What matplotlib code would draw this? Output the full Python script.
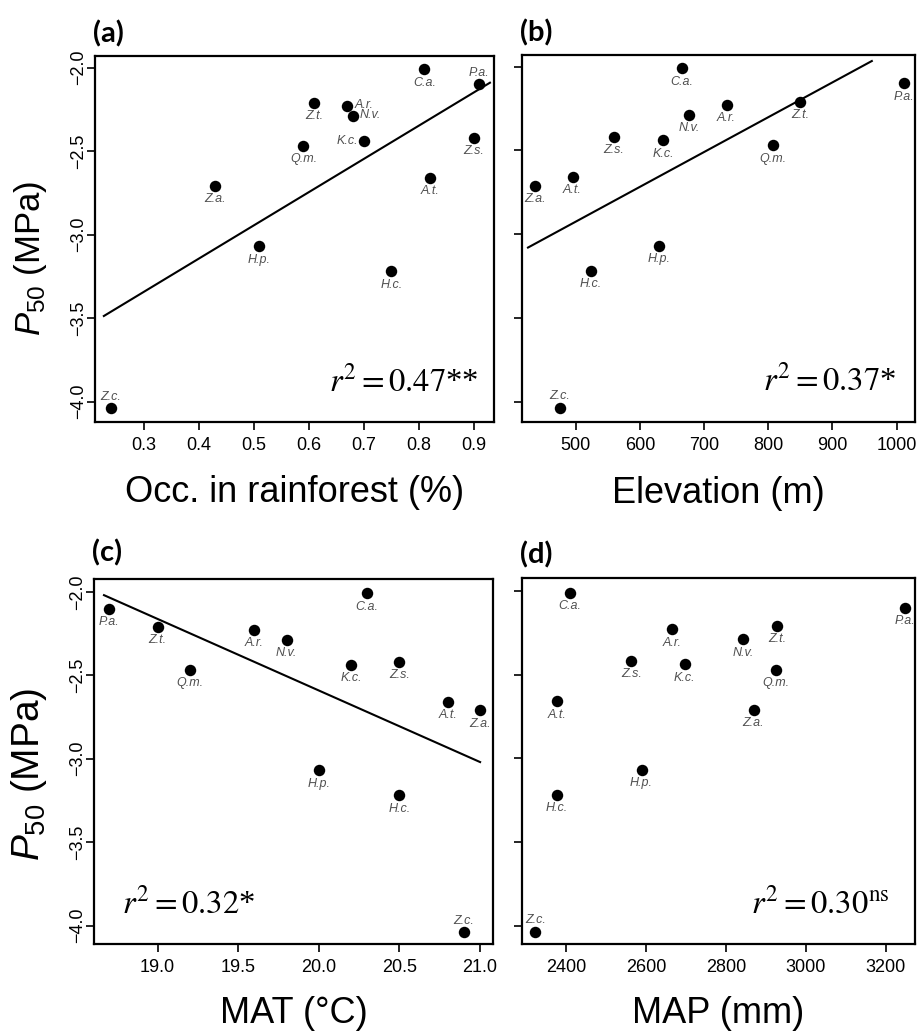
import matplotlib
matplotlib.use('Agg')
import matplotlib.pyplot as plt

# ---------------- data ----------------
species = ["A.r.", "A.t.", "C.a.", "H.c.", "H.p.", "K.c.", "N.v.",
           "P.a.", "Q.m.", "Z.a.", "Z.c.", "Z.s.", "Z.t."]
p50 = [-2.23, -2.66, -2.01, -3.22, -3.07, -2.44, -2.29,
       -2.10, -2.47, -2.71, -4.04, -2.42, -2.21]
occ_rainforest = [0.67, 0.82, 0.81, 0.75, 0.51, 0.70, 0.68,
                  0.91, 0.59, 0.43, 0.24, 0.90, 0.61]
elevation = [735, 495, 666, 524, 630, 636, 677,
             1012, 808, 436, 475, 559, 850]
mat = [19.6, 20.8, 20.3, 20.5, 20.0, 20.2, 19.8,
       18.7, 19.2, 21.0, 20.9, 20.5, 19.0]
map_mm = [2666, 2377, 2409, 2377, 2589, 2697, 2843,
          3247, 2925, 2869, 2323, 2563, 2928]

# regression lines (end points)
fit_a_x = [0.227, 0.929]
fit_a_y = [-3.487, -2.09]
fit_b_x = [425.6, 961.3]
fit_b_y = [-3.08, -1.966]
fit_c_x = [18.667, 21.0]
fit_c_y = [-2.02, -3.02]

r2_a = r'$r^2 = 0.47$**'
r2_b = r'$r^2 = 0.37$*'
r2_c = r'$r^2 = 0.32$*'
r2_d = r'$r^2 = 0.30^{\mathrm{ns}}$'

xticks_a = [0.3, 0.4, 0.5, 0.6, 0.7, 0.8, 0.9]
xticks_b = [500, 600, 700, 800, 900, 1000]
xticks_c = [19.0, 19.5, 20.0, 20.5, 21.0]
xticks_d = [2400, 2600, 2800, 3000, 3200]
yticks = [-2.0, -2.5, -3.0, -3.5, -4.0]

xlabels = ["Occ. in rainforest (%)", "Elevation (m)", "MAT (°C)", "MAP (mm)"]
panel_letters = ["(a)", "(b)", "(c)", "(d)"]

# ---------------- style ----------------
plt.rcParams['font.family'] = ['Liberation Sans', 'DejaVu Sans']
plt.rcParams['mathtext.fontset'] = 'custom'
plt.rcParams['mathtext.rm'] = 'Liberation Sans'
plt.rcParams['mathtext.it'] = 'Liberation Sans:italic'
plt.rcParams['mathtext.bf'] = 'Liberation Sans:bold'

fig = plt.figure(figsize=(9.2, 10.35), dpi=100)

W, H = 920.0, 1035.0
def box(l, r, t, b):
    return [l / W, 1 - b / H, (r - l) / W, (b - t) / H]

ax_a = fig.add_axes(box(95, 494, 56, 421.7))
ax_b = fig.add_axes(box(521.7, 915, 55, 421.7))
ax_c = fig.add_axes(box(94, 493, 579.3, 944))
ax_d = fig.add_axes(box(521.7, 915, 578.3, 944))
axes = [ax_a, ax_b, ax_c, ax_d]

xdata = [occ_rainforest, elevation, mat, map_mm]
xlims = [(0.2109, 0.9364), (415.8, 1028.6), (18.605, 21.08), (2289, 3273)]
ylims = [(-4.12, -1.93), (-4.12, -1.93), (-4.11, -1.925), (-4.11, -1.925)]
xticks = [xticks_a, xticks_b, xticks_c, xticks_d]
xfmt = ["{:.1f}", "{:d}", "{:.1f}", "{:d}"]
fits = [(fit_a_x, fit_a_y), (fit_b_x, fit_b_y), (fit_c_x, fit_c_y), None]
r2s = [r2_a, r2_b, r2_c, r2_d]
r2_pos = [(0.9625, 0.082, 'right'), (0.953, 0.0845, 'right'),
          (0.069, 0.085, 'left'), (0.936, 0.085, 'right')]
xlabel_y = [-0.2188, -0.2225, -0.2166, -0.216]
letter_y = [1.036, 1.036, 1.050, 1.041]

# label placement exceptions (default: below the point)
placement = [
    {"A.r.": "right", "N.v.": "right", "K.c.": "left", "Z.c.": "above", "P.a.": "above"},
    {"Z.c.": "above"},
    {"Z.c.": "above"},
    {"Z.c.": "above"},
]
offsets = {"below": ((0, -9.5), 'center', 'center'),
           "above": ((0, 8.5), 'center', 'center'),
           "right": ((4.8, 0.5), 'left', 'center'),
           "left": ((-4.5, 0), 'right', 'center')}

for i, ax in enumerate(axes):
    xs = xdata[i]
    ax.scatter(xs, p50, s=68, color='black', zorder=3, linewidths=0)
    if fits[i] is not None:
        ax.plot(fits[i][0], fits[i][1], color='black', lw=1.5, zorder=2)
    for name, x, y in zip(species, xs, p50):
        where = placement[i].get(name, "below")
        off, ha, va = offsets[where]
        ax.annotate(name, (x, y), xytext=off, textcoords='offset points',
                    ha=ha, va=va, fontsize=9, style='italic', color='#505050')
    ax.set_xlim(*xlims[i])
    ax.set_ylim(*ylims[i])
    ax.set_xticks(xticks[i])
    ax.set_xticklabels([xfmt[i].format(v) for v in xticks[i]])
    ax.set_yticks(yticks)
    if i in (0, 2):
        ax.set_yticklabels(["\u2212{:.1f}".format(-v) for v in yticks],
                           rotation=90, va='center')
    else:
        ax.set_yticklabels([])
    ax.tick_params(axis='both', direction='out', length=5.5, width=1.2,
                   labelsize=13, colors='black')
    ax.tick_params(axis='x', pad=5.5)
    ax.tick_params(axis='y', pad=0.5)
    for sp in ax.spines.values():
        sp.set_linewidth(1.6)
    ax.set_xlabel(xlabels[i], fontsize=26, va='baseline')
    ax.xaxis.set_label_coords(0.5, xlabel_y[i])
    tx, ty, tha = r2_pos[i]
    ax.text(tx, ty, r2s[i], transform=ax.transAxes, ha=tha, va='baseline',
            fontsize=23.5, family='Liberation Serif', math_fontfamily='stix')
    ax.text(-0.005, letter_y[i], panel_letters[i], transform=ax.transAxes,
            ha='left', va='baseline', fontsize=21, fontweight='bold', family='Lato')

ax_a.set_ylabel(r'$P_{50}$ (MPa)', fontsize=25, va='center', ha='center')
ax_a.yaxis.set_label_coords(-0.1625, 0.447)
ax_c.set_ylabel(r'$P_{50}$ (MPa)', fontsize=28, va='center', ha='center')
ax_c.yaxis.set_label_coords(-0.1625, 0.466)

fig.savefig('out.png', dpi=100, facecolor='white')
